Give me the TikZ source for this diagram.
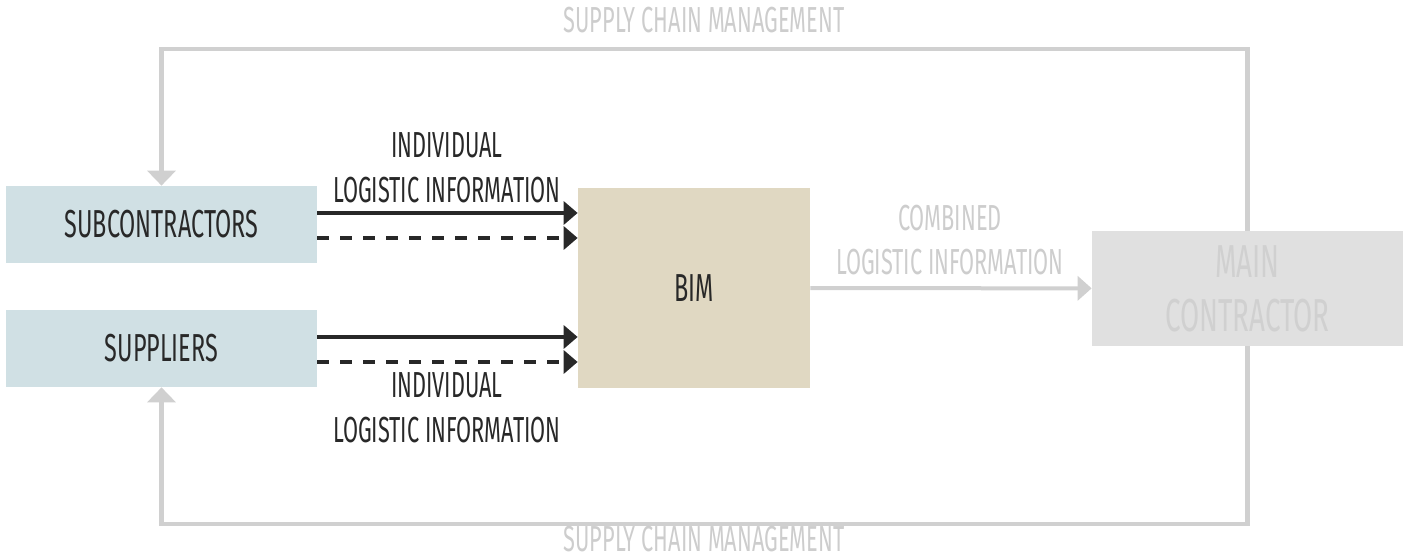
\documentclass[tikz,border=0pt]{standalone}
\usepackage{fontspec}
\setmainfont{Fira Sans}[FakeStretch=0.6]
\usetikzlibrary{arrows.meta, positioning, calc}
\definecolor{partyblue}{RGB}{208, 224, 228}
\definecolor{bimtan}{RGB}{224, 216, 194}
\definecolor{maingray}{RGB}{224, 224, 224}
\definecolor{maintext}{RGB}{208, 208, 208}
\definecolor{scmgray}{RGB}{208, 208, 208}
\definecolor{faintgray}{RGB}{205, 205, 205}
\definecolor{darktext}{RGB}{40, 40, 40}

\begin{document}
\begin{tikzpicture}[
    box/.style={rectangle, minimum width=6.22cm, minimum height=1.54cm, text centered, inner sep=0pt, text=darktext, font=\fontsize{22.2}{26}\selectfont},
    lbl/.style={align=center, inner sep=0pt, font=\fontsize{20.6}{25.5}\selectfont},
    scmlbl/.style={inner sep=0pt, text=faintgray, font=\fontsize{20.6}{25.5}\selectfont},
    flow/.style={-{Triangle[length=0.28cm, width=0.46cm]}, line width=0.08cm, darktext},
    scm/.style={-{Triangle[length=0.3cm, width=0.56cm]}, line width=0.09cm, scmgray}
]
\useasboundingbox (0,0) rectangle (28.14,11.18);

% Parties on the left
\node[box, fill=partyblue] (sub) at (3.23,6.69) {SUBCONTRACTORS};
\node[box, fill=partyblue] (sup) at (3.23,4.21) {SUPPLIERS};

% BIM in the middle
\node[box, fill=bimtan, minimum width=4.64cm, minimum height=4cm] (bim) at (13.88,5.42) {BIM};

% Main contractor
\node[box, fill=maingray, minimum width=6.22cm, minimum height=2.3cm, text=maintext, align=center,
    font=\fontsize{26.3}{30.6}\selectfont] (main) at (24.95,5.41) {MAIN\\CONTRACTOR};

% Individual information to BIM
\draw[flow] ([yshift=0.23cm]sub.east) coordinate (s1) -- (s1 -| bim.west);
\draw[flow, dash pattern=on 0.24cm off 0.22cm] ([yshift=-0.27cm]sub.east) coordinate (s2) -- (s2 -| bim.west);
\draw[flow] ([yshift=0.23cm]sup.east) coordinate (p1) -- (p1 -| bim.west);
\draw[flow, dash pattern=on 0.24cm off 0.22cm] ([yshift=-0.27cm]sup.east) coordinate (p2) -- (p2 -| bim.west);

% Combined information to main contractor
\draw[-{Triangle[length=0.28cm, width=0.48cm]}, line width=0.08cm, scmgray] (bim) -- (main);

% Supply chain management loops
\coordinate (scmtop) at (14.08,10.20);
\coordinate (scmbot) at (14.08,0.70);
\draw[scm] (main.north) |- (scmtop) -| (sub.north);
\draw[scm] (main.south) |- (scmbot) -| (sup.south);

% Labels
\node[lbl, text=darktext] (indtop) at (8.94,7.82) {INDIVIDUAL\\LOGISTIC INFORMATION};
\node[lbl, text=darktext] (indbot) at (8.94,3.02) {INDIVIDUAL\\LOGISTIC INFORMATION};
\node[lbl, text=faintgray] (comb) at (19.0,6.38) {COMBINED\\LOGISTIC INFORMATION};
\node[scmlbl, anchor=base] (scmlbltop) at (14.08,10.52) {SUPPLY CHAIN MANAGEMENT};
\node[scmlbl, anchor=base] (scmlblbot) at (14.08,0.14) {SUPPLY CHAIN MANAGEMENT};
\end{tikzpicture}
\end{document}
